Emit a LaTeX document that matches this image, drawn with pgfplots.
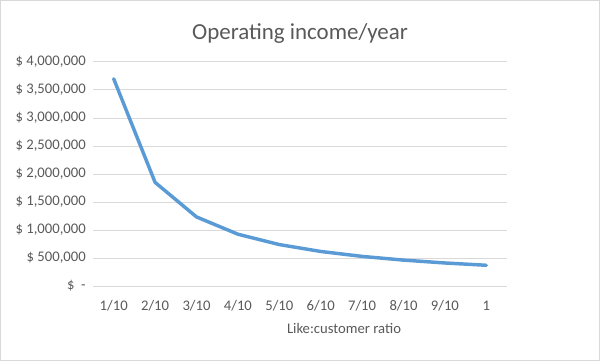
\documentclass[border=0pt]{standalone}
\usepackage{pgfplots}
\pgfplotsset{compat=1.18}
\usepackage{fontspec}
\setmainfont{Carlito}
\definecolor{linec}{HTML}{5B9BD5}
\definecolor{gridc}{HTML}{D9D9D9}
\definecolor{txt}{HTML}{595959}
\begin{document}
\begin{tikzpicture}[x=0.75pt,y=0.75pt]
\path[use as bounding box] (0,0) rectangle (600,361);
\draw[gridc, line width=0.75pt] (0.5,0.5) rectangle (599.5,360.5);
\node[txt, font=\fontsize{17.2}{20}\selectfont, anchor=base, inner sep=0pt] at (300,321) {Operating income/year};
\node[txt, font=\fontsize{11}{13}\selectfont, anchor=base, inner sep=0pt] at (344,28) {Like:customer ratio};
\begin{axis}[
  at={(69.75pt,56.25pt)}, anchor=south west,
  scale only axis, width=310.5pt, height=168pt,
  xmin=0.5, xmax=10.5, ymin=0, ymax=4000000,
  scaled y ticks=false,
  axis line style={draw=none},
  axis x line*=bottom,
  ymajorgrids, grid style={gridc, line width=0.75pt},
  major tick length=0pt,
  xtick={1,...,10},
  xticklabels={1/10,2/10,3/10,4/10,5/10,6/10,7/10,8/10,9/10,1},
  ytick={0,500000,1000000,1500000,2000000,2500000,3000000,3500000,4000000},
  yticklabels={\$\hspace{5pt}-\hspace{2pt},\$ 500{,}000,\$ 1{,}000{,}000,\$ 1{,}500{,}000,\$ 2{,}000{,}000,\$ 2{,}500{,}000,\$ 3{,}000{,}000,\$ 3{,}500{,}000,\$ 4{,}000{,}000},
  ticklabel style={font=\fontsize{11}{13}\selectfont, text=txt},
  yticklabel style={anchor=east, inner sep=0pt, xshift=-5.25pt},
  xticklabel style={anchor=base, inner sep=0pt, yshift=-18pt},
  clip=false,
]
\addplot[linec, line width=2.6pt, line join=round, line cap=round, no marks] coordinates {
  (1,3700000) (2,1850000) (3,1233333) (4,925000) (5,740000)
  (6,616667) (7,528571) (8,462500) (9,411111) (10,370000)
};
\end{axis}
\end{tikzpicture}
\end{document}
